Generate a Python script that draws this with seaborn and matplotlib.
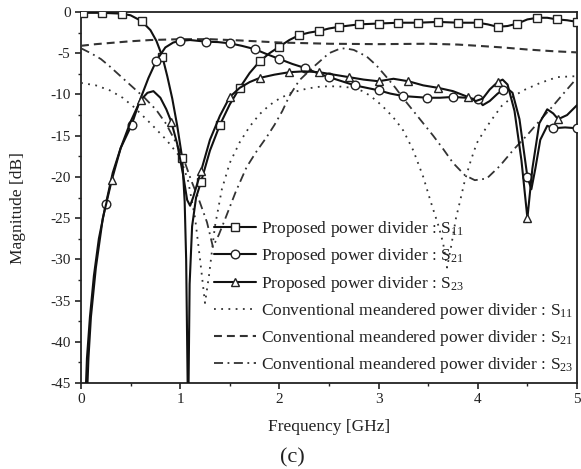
import numpy as np
import pandas as pd
import matplotlib
matplotlib.use("Agg")
import matplotlib.pyplot as plt
import seaborn as sns
from matplotlib.ticker import MultipleLocator

# ---------------- data ----------------
# Proposed power divider : S11 (squares)
p11_x = [0.00, 0.02, 0.21, 0.41, 0.50, 0.61, 0.70, 0.76, 0.82, 0.87, 0.92, 0.97, 1.02, 1.045, 1.06, 1.08,
         1.095, 1.12, 1.16, 1.21, 1.30, 1.40, 1.50, 1.60, 1.70, 1.80, 1.90, 2.00, 2.10, 2.20, 2.30, 2.40,
         2.50, 2.60, 2.80, 3.00, 3.20, 3.40, 3.60, 3.80, 4.00, 4.10, 4.20, 4.30, 4.40, 4.50, 4.60, 4.70,
         4.80, 4.90, 5.00]
p11_y = [-0.1, -0.1, -0.1, -0.2, -0.4, -1.1, -2.2, -3.5, -5.4, -7.8, -10.5, -13.8, -17.7, -23.0, -30.0, -50.0,
         -33.0, -26.0, -22.5, -20.6, -16.8, -13.7, -11.2, -9.2, -7.4, -6.0, -5.0, -4.2, -3.4, -2.8, -2.5, -2.3,
         -2.0, -1.8, -1.5, -1.4, -1.3, -1.3, -1.2, -1.3, -1.3, -1.5, -1.8, -1.7, -1.4, -0.9, -0.7, -0.7,
         -0.9, -1.0, -1.2]
p11_marks = [0.02, 0.21, 0.41, 0.61, 0.82, 1.02, 1.21, 1.40, 1.60, 1.80, 2.00, 2.20, 2.40, 2.60, 2.80,
             3.00, 3.20, 3.40, 3.60, 3.80, 4.00, 4.20, 4.40, 4.60, 4.80, 5.00]

# Proposed power divider : S21 (circles)
p21_x = [0.035, 0.06, 0.09, 0.13, 0.18, 0.25, 0.32, 0.40, 0.51, 0.60, 0.68, 0.76, 0.85, 0.93, 1.00, 1.10,
         1.26, 1.38, 1.50, 1.62, 1.75, 1.87, 2.00, 2.13, 2.26, 2.38, 2.50, 2.63, 2.76, 2.88, 3.00, 3.12,
         3.25, 3.37, 3.49, 3.62, 3.75, 3.88, 4.00, 4.05, 4.12, 4.20, 4.25, 4.30, 4.35, 4.42, 4.50, 4.54,
         4.58, 4.63, 4.70, 4.76, 4.88, 5.00]
p21_y = [-50.0, -42.0, -37.0, -32.0, -27.5, -23.3, -19.5, -16.5, -13.7, -10.5, -8.0, -5.9, -4.3, -3.7, -3.5, -3.4,
         -3.6, -3.65, -3.8, -4.1, -4.5, -5.1, -5.7, -6.3, -6.8, -7.4, -7.9, -8.4, -8.9, -9.2, -9.5, -9.9,
         -10.2, -10.3, -10.4, -10.4, -10.3, -10.4, -10.6, -11.3, -10.8, -9.9, -9.5, -9.3, -9.8, -13.0, -20.0, -21.5,
         -19.0, -15.5, -13.8, -14.1, -14.0, -14.1]
p21_marks = [0.25, 0.51, 0.76, 1.00, 1.26, 1.50, 1.75, 2.00, 2.26, 2.50, 2.76, 3.00, 3.25, 3.49, 3.75,
             4.00, 4.25, 4.50, 4.76, 5.00]

# Proposed power divider : S23 (triangles)
p23_x = [0.05, 0.075, 0.10, 0.15, 0.22, 0.31, 0.40, 0.50, 0.60, 0.67, 0.73, 0.80, 0.86, 0.91, 0.97, 1.03,
         1.07, 1.10, 1.13, 1.21, 1.30, 1.40, 1.50, 1.60, 1.70, 1.80, 1.95, 2.10, 2.25, 2.40, 2.55, 2.70,
         2.85, 3.00, 3.15, 3.30, 3.45, 3.60, 3.75, 3.90, 3.98, 4.05, 4.12, 4.20, 4.25, 4.30, 4.37, 4.44,
         4.50, 4.55, 4.62, 4.70, 4.76, 4.81, 4.90, 5.00]
p23_y = [-50.0, -42.0, -37.0, -31.0, -25.0, -20.4, -16.5, -13.3, -10.7, -9.8, -9.6, -10.4, -11.8, -13.3, -16.0, -19.8,
         -22.8, -23.5, -22.5, -19.3, -15.5, -12.6, -10.3, -9.2, -8.5, -8.0, -7.6, -7.3, -7.2, -7.3, -7.6, -7.9,
         -8.2, -8.4, -8.1, -8.4, -8.9, -9.2, -9.6, -10.3, -10.8, -10.5, -9.4, -8.5, -8.2, -8.8, -12.0, -18.0,
         -25.0, -19.0, -13.5, -11.8, -12.3, -13.0, -12.5, -11.3]
p23_marks = [0.31, 0.60, 0.91, 1.21, 1.50, 1.80, 2.10, 2.40, 2.70, 3.00, 3.30, 3.60, 3.90, 4.20, 4.50, 4.81]

# Conventional meandered power divider : S11 (dotted)
c11_x = [0.00, 0.15, 0.29, 0.42, 0.53, 0.70, 0.86, 1.00, 1.08, 1.15, 1.20, 1.25, 1.29, 1.35, 1.42, 1.50,
         1.60, 1.70, 1.80, 1.90, 2.00, 2.12, 2.24, 2.37, 2.50, 2.62, 2.74, 2.84, 2.92, 3.00, 3.08, 3.17,
         3.25, 3.35, 3.45, 3.52, 3.60, 3.65, 3.69, 3.73, 3.78, 3.82, 3.87, 3.93, 3.99, 4.06, 4.12, 4.24,
         4.35, 4.46, 4.63, 4.80, 4.96, 5.00]
c11_y = [-8.6, -8.9, -9.5, -10.4, -11.5, -13.5, -15.5, -17.6, -20.5, -25.0, -30.0, -35.3, -32.0, -26.0, -21.5, -18.3,
         -15.8, -13.9, -12.4, -11.3, -10.5, -9.8, -9.4, -9.1, -9.0, -9.05, -9.2, -9.6, -10.2, -11.0, -11.9, -13.1,
         -14.4, -16.8, -20.0, -22.8, -25.8, -28.0, -31.0, -28.5, -25.0, -23.0, -20.4, -18.0, -15.9, -14.5, -13.4, -11.4,
         -10.3, -9.5, -8.6, -7.9, -7.8, -7.8]

# Conventional meandered power divider : S21 (dashed)
c21_x = [0.00, 0.15, 0.30, 0.50, 0.70, 1.00, 1.30, 1.60, 2.00, 2.50, 3.00, 3.50, 3.80, 4.00, 4.25, 4.50,
         4.75, 5.00]
c21_y = [-4.1, -3.9, -3.75, -3.55, -3.4, -3.3, -3.3, -3.45, -3.7, -3.85, -3.9, -3.85, -3.95, -4.1, -4.3, -4.55,
         -4.75, -4.9]

# Conventional meandered power divider : S23 (dash-dot)
c23_x = [0.00, 0.10, 0.20, 0.29, 0.40, 0.52, 0.64, 0.76, 0.86, 0.96, 1.04, 1.11, 1.19, 1.27, 1.33, 1.39,
         1.45, 1.56, 1.67, 1.77, 1.87, 1.95, 2.03, 2.10, 2.20, 2.34, 2.50, 2.60, 2.66, 2.75, 2.88, 2.98,
         3.08, 3.17, 3.25, 3.35, 3.45, 3.55, 3.65, 3.75, 3.87, 3.97, 4.09, 4.22, 4.36, 4.50, 4.63, 4.75,
         4.87, 5.00]
c23_y = [-4.4, -5.0, -5.7, -6.6, -7.8, -9.1, -10.4, -11.9, -13.6, -15.9, -18.0, -20.4, -22.8, -25.5, -28.5, -27.0,
         -25.2, -21.8, -18.8, -16.9, -15.2, -13.7, -12.0, -10.2, -8.3, -6.7, -5.0, -4.5, -4.4, -4.6, -5.4, -6.5,
         -7.9, -9.2, -10.5, -12.0, -13.5, -15.0, -16.6, -18.3, -19.8, -20.4, -20.2, -18.7, -16.7, -14.9, -13.1, -11.5,
         -9.8, -8.0]

labels = [
    "Proposed power divider : S$_{11}$",
    "Proposed power divider : S$_{21}$",
    "Proposed power divider : S$_{23}$",
    "Conventional meandered power divider : S$_{11}$",
    "Conventional meandered power divider : S$_{21}$",
    "Conventional meandered power divider : S$_{23}$",
]
x_ticks = [0, 1, 2, 3, 4, 5]
y_ticks = [0, -5, -10, -15, -20, -25, -30, -35, -40, -45]

# ---------------- style ----------------
sns.set_theme(style="ticks")
plt.rcParams["font.family"] = ["Liberation Serif", "DejaVu Serif"]
plt.rcParams["mathtext.fontset"] = "custom"
plt.rcParams["mathtext.rm"] = "Liberation Serif"
plt.rcParams["mathtext.it"] = "Liberation Serif:italic"
plt.rcParams["axes.unicode_minus"] = False

fig = plt.figure(figsize=(5.81, 4.69), dpi=100)
ax = fig.add_axes([81 / 581, 1 - 383 / 469, (577 - 81) / 581, (383 - 12) / 469])


def mark_idx(xs, marks):
    ms = set(round(m, 3) for m in marks)
    return [i for i, v in enumerate(xs) if round(v, 3) in ms]


def draw(xs, ys, **kw):
    df = pd.DataFrame({"x": xs, "y": ys})
    sns.lineplot(data=df, x="x", y="y", ax=ax, sort=False, estimator=None, **kw)


mk = dict(markerfacecolor="white", markeredgecolor="#222222", markeredgewidth=1.0)
draw(p11_x, p11_y, color="#111111", lw=1.5, marker="s", markersize=5.4,
     markevery=mark_idx(p11_x, p11_marks), label=labels[0], zorder=5, **mk)
draw(p21_x, p21_y, color="#111111", lw=1.5, marker="o", markersize=6.2,
     markevery=mark_idx(p21_x, p21_marks), label=labels[1], zorder=5, **mk)
draw(p23_x, p23_y, color="#111111", lw=1.5, marker="^", markersize=6.4,
     markevery=mark_idx(p23_x, p23_marks), label=labels[2], zorder=5, **mk)
draw(c11_x, c11_y, color="#333333", lw=1.3, linestyle=(0, (1, 3)), label=labels[3], zorder=3)
draw(c21_x, c21_y, color="#333333", lw=1.5, linestyle=(0, (3.8, 2.4)), label=labels[4], zorder=3)
draw(c23_x, c23_y, color="#333333", lw=1.3, linestyle=(0, (5, 2.5, 1, 2.5)), label=labels[5], zorder=3)

ax.set_xlim(0, 5)
ax.set_ylim(-45, 0)
ax.set_xticks(x_ticks)
ax.set_yticks(y_ticks)
ax.xaxis.set_minor_locator(MultipleLocator(0.5))
ax.yaxis.set_minor_locator(MultipleLocator(2.5))
ax.tick_params(axis="both", which="major", direction="out", length=4.5, width=1.2,
               labelsize=11, color="#222222", labelcolor="#222222", pad=3)
ax.tick_params(axis="both", which="minor", direction="out", length=2.5, width=1.0, color="#222222")
ax.tick_params(top=False, right=False, which="both")
for s in ax.spines.values():
    s.set_visible(True)
    s.set_linewidth(1.3)
    s.set_color("#222222")

ax.set_xlabel("Frequency [GHz]", fontsize=12.5, color="#222222")
ax.set_ylabel("Magnitude [dB]", fontsize=12.5, color="#222222")
ax.xaxis.set_label_coords(0.5, -0.098)
ax.yaxis.set_label_coords(-0.111, 0.472)

leg = ax.legend(loc="upper left", bbox_to_anchor=(0.269, 0.442), frameon=False,
                fontsize=12.5, handlelength=2.4, handletextpad=0.3, labelspacing=0.42,
                borderpad=0, borderaxespad=0)
for t in leg.get_texts():
    t.set_color("#222222")

fig.text(0.503, 0.024, "(c)", ha="center", va="center", fontsize=16, color="#222222")

fig.savefig("out.png", dpi=100)
